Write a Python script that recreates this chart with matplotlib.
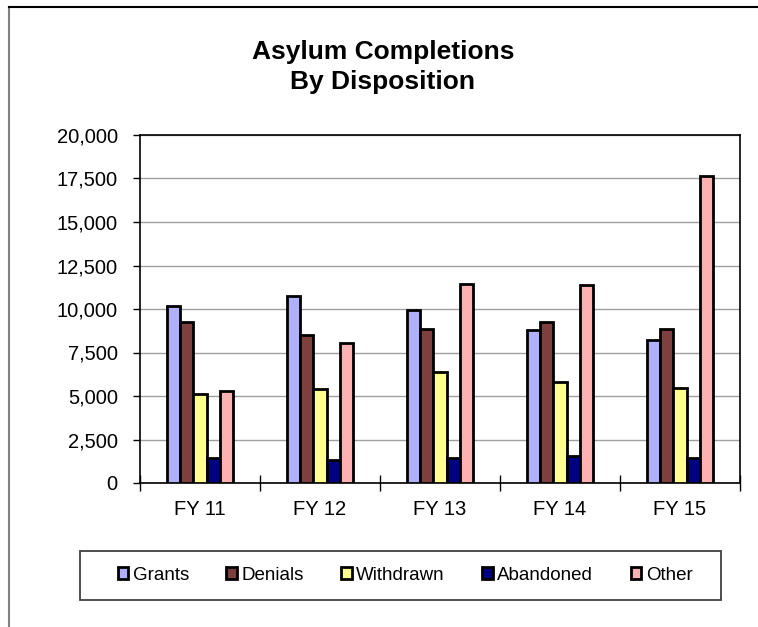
import matplotlib
matplotlib.use("Agg")
import matplotlib.pyplot as plt
from matplotlib.lines import Line2D
from matplotlib.patches import Rectangle, Patch
import numpy as np

plt.rcParams['font.family'] = ['Liberation Sans', 'DejaVu Sans']

years = ["FY 11", "FY 12", "FY 13", "FY 14", "FY 15"]
series = ["Grants", "Denials", "Withdrawn", "Abandoned", "Other"]
grants = [10150, 10770, 9960, 8810, 8240]
denials = [9270, 8510, 8850, 9230, 8850]
withdrawn = [5130, 5380, 6400, 5800, 5480]
abandoned = [1440, 1320, 1440, 1530, 1440]
other = [5310, 8050, 11420, 11380, 17640]
colors = ["#B0B0FF", "#7F3F3F", "#FFFF8C", "#000080", "#FFB0B0"]

values = [grants, denials, withdrawn, abandoned, other]

fig = plt.figure(figsize=(7.58, 6.27), dpi=100)
ax = fig.add_axes([140/758, 144/627, 600/758, 348/627])

x = np.arange(len(years))
w = 0.111
for i, (name, vals, c) in enumerate(zip(series, values, colors)):
    ax.bar(x + (i - 2) * w, vals, w, color=c, edgecolor="black",
           linewidth=2.0, label=name, zorder=3)

ax.set_xlim(-0.5, 4.5)
ax.set_ylim(0, 20000)
ax.set_yticks(np.arange(0, 20001, 2500))
ax.set_yticklabels([f"{v:,}" for v in range(0, 20001, 2500)], fontsize=14.5)
ax.yaxis.grid(True, color="#a0a0a0", linewidth=1, zorder=0)
ax.tick_params(axis="y", direction="out", length=5, width=1, pad=11)

ax.set_xticks(np.arange(-0.5, 4.6, 1))
ax.set_xticklabels([])
ax.tick_params(axis="x", which="major", direction="inout", length=12, width=1)
ax.set_xticks(x, minor=True)
ax.set_xticklabels(years, minor=True, fontsize=14.5)
ax.tick_params(axis="x", which="minor", length=0, pad=12)

for s in ax.spines.values():
    s.set_linewidth(1.2)
    s.set_color("black")

fig.text(383/758, 1 - 67/627, "Asylum Completions\nBy Disposition",
         ha="center", va="center", fontsize=19, fontweight="bold",
         linespacing=1.3)

# legend box
fig.patches.append(Rectangle((80/758, 1 - 600/627), 641/758, 49/627,
                             transform=fig.transFigure, fill=False,
                             edgecolor="#404040", linewidth=1.3))
handles = [Patch(facecolor=c, edgecolor="black", linewidth=2.0) for c in colors]
fig.legend(handles, series, loc="center", bbox_to_anchor=(405/758, 1 - 575/627),
           ncol=5, frameon=False, fontsize=13.5, handlelength=0.55,
           handleheight=0.55, handletextpad=0.25, columnspacing=2.0)

# outer border
fig.lines.append(Line2D([9/758, 9/758], [0, 1 - 7/627], transform=fig.transFigure,
                        color="#808080", linewidth=1.5))
fig.lines.append(Line2D([9/758, 1], [1 - 7/627, 1 - 7/627], transform=fig.transFigure,
                        color="black", linewidth=1.5))

fig.savefig("out.png", dpi=100)
